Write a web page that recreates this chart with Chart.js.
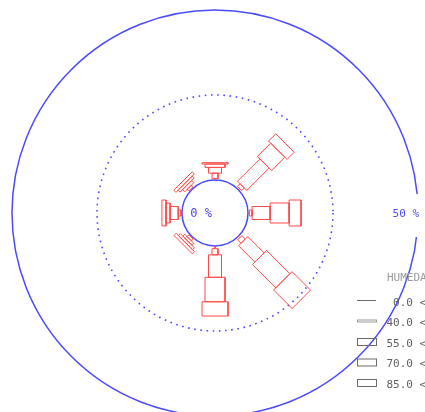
<!DOCTYPE html>
<html>
<head>
<meta charset="utf-8">
<script src="https://cdn.jsdelivr.net/npm/chart.js@4/dist/chart.umd.min.js"></script>
<style>
  html, body { margin: 0; padding: 0; background: #ffffff; }
  #wrap { position: relative; width: 425px; height: 412px; }
</style>
</head>
<body>
<div id="wrap"><canvas id="rose"></canvas></div>
<script>
// Compass sectors, clockwise from north
const DIRECTIONS = ['N', 'NE', 'E', 'SE', 'S', 'SW', 'W', 'NW'];
const DIRECTION_DEG = [0, 45, 90, 135, 180, 225, 270, 315];

// Humidity classes (legend text)
const HUM_CLASSES = ['0.0', '40.0', '55.0', '70.0', '85.0'];
const HUM_UPPER = ['40.0', '55.0', '70.0', '85.0', '100.0'];

// Frequency (%) of each humidity class per direction
const HUM_0_40   = [0.4, 0.5, 0.4, 0.6, 0.8, 0.3, 0.3, 0.3];
const HUM_40_55  = [1.6, 1.1, 0.8, 1.4, 1.8, 0.7, 0.8, 0.7];
const HUM_55_70  = [1.7, 9.3, 5.3, 6.8, 6.6, 0.8, 2.4, 0.9];
const HUM_70_85  = [1.0, 5.5, 5.6, 9.7, 7.2, 0.8, 1.2, 0.8];
const HUM_85_100 = [0.4, 3.0, 3.5, 7.7, 4.2, 0.9, 1.2, 0.9];

// Frequency rings (%) and their labels
const RING_VALUES = [0, 25, 50];
const RING_LABELS = ['0 %', '', '50 %'];
const LEGEND_TITLE = 'HUMEDAD';

// ---- drawing setup ----
const W = 425, H = 412;
const CX = 215, CY = 213;       // pole position in pixels
const PX_PER_PCT = 3.4;         // radial scale
const HOLE = 33 / PX_PER_PCT;   // calm circle radius, in % units
const CLASS_HALF_PX = [0, 3, 6.5, 10, 13];
const RED = '#ff4a4a';
const BLUE = '#4a4aff';

const series = [HUM_0_40, HUM_40_55, HUM_55_70, HUM_70_85, HUM_85_100];

function toXY(r, along, deg) {
  const t = deg * Math.PI / 180;
  const ux = Math.sin(t), uy = Math.cos(t);
  const px = Math.cos(t), py = -Math.sin(t);
  return { x: r * ux + along * px, y: r * uy + along * py };
}

const datasets = [];
DIRECTIONS.forEach((dir, d) => {
  let acc = 0;
  series.forEach((vals, k) => {
    const v = vals[d];
    const r0 = HOLE + acc, r1 = HOLE + acc + v;
    acc += v;
    const hw = CLASS_HALF_PX[k] / PX_PER_PCT;
    const deg = DIRECTION_DEG[d];
    let pts;
    if (hw === 0) {
      pts = [toXY(r0, 0, deg), toXY(r1, 0, deg)];
    } else {
      pts = [toXY(r0, -hw, deg), toXY(r1, -hw, deg), toXY(r1, hw, deg),
             toXY(r0, hw, deg), toXY(r0, -hw, deg)];
    }
    datasets.push({
      label: dir + ' ' + HUM_CLASSES[k],
      data: pts,
      showLine: true,
      borderColor: RED,
      borderWidth: 1,
      pointRadius: 0,
      pointHoverRadius: 0,
      fill: false,
      tension: 0
    });
  });
});

// Rings: calm circle, 25 % dotted ring, 50 % outer ring
const ringPlugin = {
  id: 'rings',
  beforeDatasetsDraw(chart) {
    const { ctx, scales: { x, y } } = chart;
    const cx = x.getPixelForValue(0), cy = y.getPixelForValue(0);
    ctx.save();
    ctx.strokeStyle = BLUE;
    RING_VALUES.forEach((v, i) => {
      const r = x.getPixelForValue(HOLE + v) - cx;
      ctx.beginPath();
      ctx.lineWidth = 1.5;
      if (i === 1) { ctx.setLineDash([1.6, 4.6]); ctx.lineWidth = 1.6; }
      else ctx.setLineDash([]);
      ctx.arc(cx, cy, r, 0, Math.PI * 2);
      ctx.stroke();
    });
    ctx.restore();
  },
  afterDatasetsDraw(chart) {
    const { ctx, scales: { x, y } } = chart;
    const cx = x.getPixelForValue(0), cy = y.getPixelForValue(0);
    ctx.save();
    ctx.textBaseline = 'middle';
    ctx.textAlign = 'right';
    ctx.fillStyle = BLUE;
    // centre label
    ctx.font = '12px "DejaVu Sans Mono"';
    ctx.fillText(RING_LABELS[0], cx - 3, cy + 1);
    // outer ring label on a white patch
    ctx.font = '11px "DejaVu Sans Mono"';
    const rOut = x.getPixelForValue(HOLE + RING_VALUES[2]) - cx;
    ctx.fillStyle = '#ffffff';
    ctx.fillRect(cx + rOut - 28, cy - 19, 40, 43);
    ctx.fillStyle = BLUE;
    ctx.fillText(RING_LABELS[2], cx + rOut + 1, cy + 1);

    // legend
    ctx.textAlign = 'left';
    ctx.fillStyle = '#9a9a9a';
    ctx.fillText(LEGEND_TITLE, 387, 278);
    const rowY = [303, 323.5, 344, 364.5, 385];
    HUM_CLASSES.forEach((lo, k) => {
      const yy = rowY[k];
      ctx.strokeStyle = '#6a6a6a';
      ctx.lineWidth = 1;
      if (k === 0) {
        ctx.beginPath(); ctx.moveTo(357, yy - 2.5); ctx.lineTo(376, yy - 2.5); ctx.stroke();
      } else if (k === 1) {
        ctx.strokeStyle = '#9a9a9a';
        ctx.strokeRect(357.5, yy - 3.5, 19, 2);
      } else {
        ctx.strokeRect(357.5, yy - 5.5, 19, 7);
      }
      ctx.fillStyle = '#5e5e5e';
      const txt = lo.padStart(4, ' ') + ' <= HUM < ' + HUM_UPPER[k];
      ctx.fillText(txt, 386.5, yy);
    });
    ctx.restore();
  }
};

new Chart(document.getElementById('rose'), {
  type: 'scatter',
  data: { datasets },
  options: {
    responsive: true,
    maintainAspectRatio: false,
    animation: false,
    events: [],
    layout: { padding: 0 },
    plugins: { legend: { display: false }, tooltip: { enabled: false } },
    scales: {
      x: { type: 'linear', display: false, min: -CX / PX_PER_PCT, max: (W - CX) / PX_PER_PCT },
      y: { type: 'linear', display: false, min: -(H - CY) / PX_PER_PCT, max: CY / PX_PER_PCT }
    }
  },
  plugins: [ringPlugin]
});
</script>
</body>
</html>
